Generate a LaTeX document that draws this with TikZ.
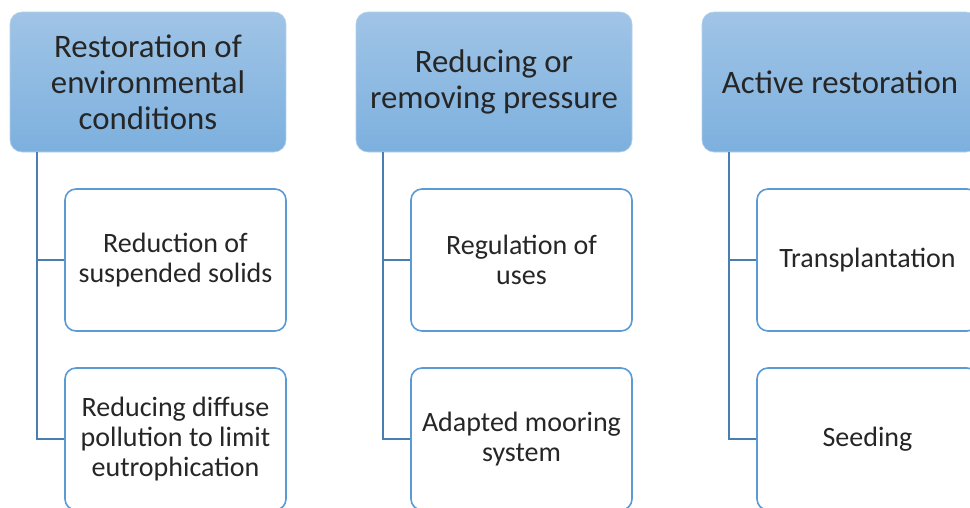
\documentclass[tikz,border=0pt]{standalone}
\usepackage{fontspec}
\setmainfont{Carlito}
\usepackage{tikz}
\usetikzlibrary{positioning}
\definecolor{headtop}{HTML}{A0C4E6}
\definecolor{headbot}{HTML}{7DB0DE}
\definecolor{boxline}{HTML}{5B9BD5}
\definecolor{linkline}{HTML}{4A7EB0}
\definecolor{txt}{HTML}{262626}
\tikzstyle{head}=[rectangle,rounded corners=12pt,top color=headtop,bottom color=headbot,draw=headtop!80!white,line width=0.6pt,minimum width=276pt,minimum height=140pt,align=center,text=txt,font=\fontsize{32.8}{36}\selectfont,inner sep=0pt]
\tikzstyle{leaf}=[rectangle,rounded corners=11pt,fill=white,draw=boxline,line width=1.6pt,minimum width=221pt,minimum height=142pt,align=center,text=txt,font=\fontsize{28}{30}\selectfont,inner sep=0pt]
\tikzstyle{link}=[draw=linkline,line width=2pt]

\begin{document}
\begin{tikzpicture}[x=1pt,y=-1pt]
	\useasboundingbox (0,0) rectangle (970,507);
	\node[head] (h1) at (148,82) {Restoration of\\environmental\\conditions};
	\node[head] (h2) at (494,82) {Reducing or\\removing pressure};
	\node[head] (h3) at (840,82) {Active restoration};
	\node[leaf] (a1) at (175.5,260) {Reduction of\\suspended solids};
	\node[leaf] (a2) at (175.5,439) {Reducing diffuse\\pollution to limit\\eutrophication};
	\node[leaf] (b1) at (521.5,260) {Regulation of\\uses};
	\node[leaf] (b2) at (521.5,439) {Adapted mooring\\system};
	\node[leaf] (c1) at (867.5,260) {Transplantation};
	\node[leaf] (c2) at (867.5,439) {Seeding};
	% links from headers to the boxes below
	\path[link] (h1.south west) ++(27,0) |- (a1.west);
	\path[link] (h1.south west) ++(27,0) |- (a2.west);
	\path[link] (h2.south west) ++(27,0) |- (b1.west);
	\path[link] (h2.south west) ++(27,0) |- (b2.west);
	\path[link] (h3.south west) ++(27,0) |- (c1.west);
	\path[link] (h3.south west) ++(27,0) |- (c2.west);
\end{tikzpicture}
\end{document}
